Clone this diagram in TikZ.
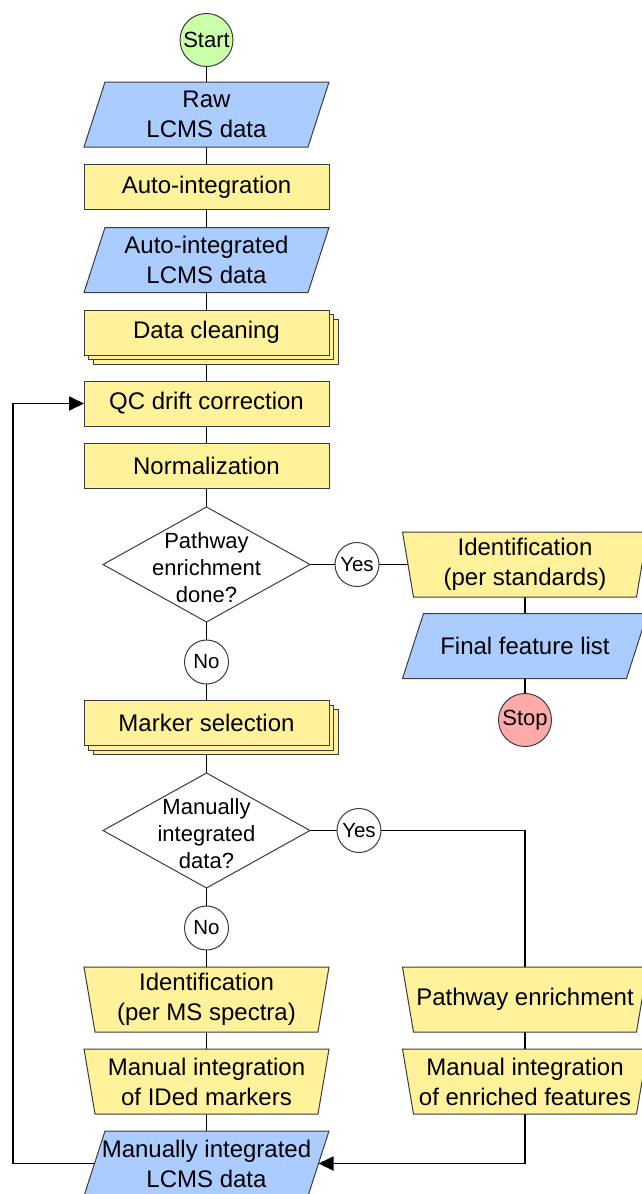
\documentclass[tikz,border=0pt]{standalone}
\usepackage{fontspec}
\setmainfont{Liberation Sans}
\usetikzlibrary{shapes.geometric,shadows,arrows.meta}
\pgfdeclarelayer{edges}
\pgfdeclarelayer{shapes}
\pgfsetlayers{edges,shapes,main}
\definecolor{ioblue}{RGB}{170,204,255}
\definecolor{procyel}{RGB}{255,242,155}
\definecolor{startgreen}{RGB}{204,255,170}
\definecolor{stopred}{RGB}{255,170,170}
\definecolor{edgegray}{RGB}{60,60,60}
\newcommand\ioshape[2][21pt]{\draw[iofill] ([xshift=#1]#2.north west) -- (#2.north east) -- ([xshift=-#1]#2.south east) -- (#2.south west) -- cycle;}
\newcommand\manshape[2][11pt]{\draw[manfill] (#2.north west) -- (#2.north east) -- ([xshift=-#1]#2.south east) -- ([xshift=#1]#2.south west) -- cycle;}
\newcommand\dectext[1]{\smash{\raisebox{-11pt}{\begin{tabular}{@{}c@{}}#1\end{tabular}}}}
\tikzset{
  base/.style={inner sep=0pt, outer sep=0pt, align=center, font=\fontsize{24}{30}\selectfont},
  proc/.style={base, rectangle, draw=edgegray, line width=1pt, fill=procyel, minimum width=245pt, minimum height=45pt},
  stackbox/.style={proc, double copy shadow={shadow xshift=4.5pt, shadow yshift=-4.5pt, fill=procyel, draw=edgegray, line width=1pt}},
  holder/.style={base, rectangle, minimum width=245pt, minimum height=65pt},
  iofill/.style={draw=edgegray, line width=1pt, fill=ioblue},
  manfill/.style={draw=edgegray, line width=1pt, fill=procyel},
  term/.style={base, circle, draw=edgegray, line width=1pt, minimum size=53pt, font=\fontsize{22}{26}\selectfont},
  answer/.style={base, circle, draw=edgegray, line width=1pt, fill=white, minimum size=44pt, font=\fontsize{20.5}{24}\selectfont},
  decision/.style={base, diamond, draw=edgegray, line width=1pt, fill=white, minimum width=207pt, minimum height=115pt, font=\fontsize{22}{27}\selectfont},
  conn/.style={line width=1.8pt, black},
  flow/.style={conn, -{Triangle[length=15pt,width=14pt]}},
}
\begin{document}
\begin{tikzpicture}[x=1pt,y=-1pt]
\useasboundingbox (0,0) rectangle (641,1194);
% left column
\node[term, fill=startgreen] (start) at (206.5,40) {Start};
\node[holder] (raw) at (206.5,114.5) {Raw\\LCMS data};
\node[proc] (autoint) at (206.5,187) {Auto-integration};
\node[holder] (autolcms) at (206.5,260) {Auto-integrated\\LCMS data};
\node[stackbox] (clean) at (206.5,332.5) {Data cleaning};
\node[proc] (qc) at (206.5,403.5) {QC drift correction};
\node[proc] (norm) at (206.5,466) {Normalization};
\node[decision] (d1) at (206.5,564.5) {\dectext{Pathway\\enrichment\\done?}};
\node[answer] (no1) at (206.5,662) {No};
\node[stackbox] (marker) at (206.5,723) {Marker selection};
\node[decision] (d2) at (206.5,830.5) {\dectext{Manually\\integrated\\data?}};
\node[answer] (no2) at (206.5,928) {No};
\node[holder] (identms) at (206.5,999.5) {Identification\\(per MS spectra)};
\node[holder] (manid) at (206.5,1081.5) {Manual integration\\of IDed markers};
\node[holder] (mlcms) at (206.5,1163.5) {Manually integrated\\LCMS data};
% right column
\node[answer] (yes1) at (357,564.5) {Yes};
\node[holder] (ident1) at (525,564.5) {Identification\\(per standards)};
\node[holder] (final) at (525,646) {Final feature list};
\node[term, fill=stopred] (stop) at (525,720) {Stop};
\node[answer] (yes2) at (359,830.5) {Yes};
\node[holder] (pathenr) at (525,999.5) {Pathway enrichment};
\node[holder] (manenr) at (525,1081.5) {Manual integration\\of enriched features};
\coordinate (fbx) at (13,0);
% shapes
\begin{pgfonlayer}{shapes}
\ioshape{raw}
\ioshape{autolcms}
\ioshape{mlcms}
\ioshape{final}
\manshape{ident1}
\manshape{identms}
\manshape{manid}
\manshape{pathenr}
\manshape{manenr}
\end{pgfonlayer}
% connectors
\begin{pgfonlayer}{edges}
\draw[conn] (start) -- (raw.north);
\draw[conn] (raw) -- (autoint);
\draw[conn] (autoint) -- (autolcms);
\draw[conn] (autolcms) -- (clean);
\draw[conn] (clean) -- (qc);
\draw[conn] (qc) -- (norm);
\draw[conn] (norm) -- (d1);
\draw[conn] (d1) -- (no1);
\draw[conn] (no1) -- (marker);
\draw[conn] (marker) -- (d2);
\draw[conn] (d2) -- (no2);
\draw[conn] (no2) -- (identms);
\draw[conn] (identms) -- (manid);
\draw[conn] (manid) -- (mlcms);
\draw[conn] (d1) -- (yes1);
\draw[conn] (yes1) -- ([xshift=5.5pt]ident1.west);
\draw[conn] (ident1) -- (final);
\draw[conn] (final) -- (stop);
\draw[conn] (d2) -- (yes2);
\draw[conn] (yes2.east) -| (pathenr.north);
\draw[conn] (pathenr) -- (manenr);
\draw[flow] (manenr.south) |- ([xshift=-10.5pt]mlcms.east);
\draw[flow] (mlcms.center) -- (mlcms.center -| fbx) |- (qc.west);
\end{pgfonlayer}
\end{tikzpicture}
\end{document}
